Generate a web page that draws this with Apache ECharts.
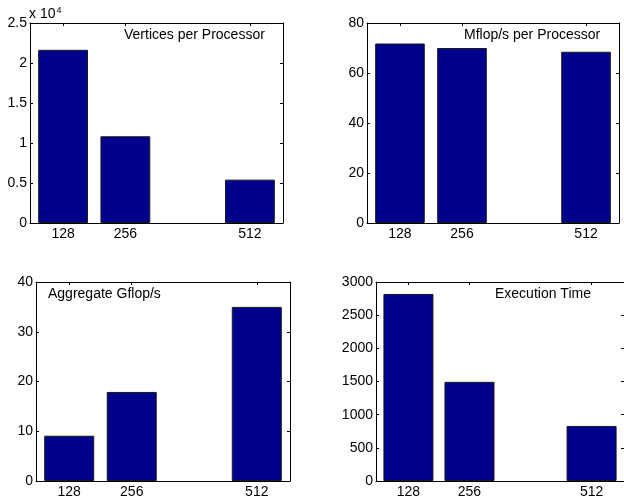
<!DOCTYPE html>
<html>
<head>
<meta charset="utf-8">
<script src="https://cdn.jsdelivr.net/npm/echarts@6/dist/echarts.min.js"></script>
<style>html,body{margin:0;padding:0;background:#fff}#c{width:624px;height:499px}</style>
</head>
<body>
<div id="c"></div>
<script>
// ---- data ----
const processors = [128, 256, 512];
const xTicks = [128, 256, 512];
const vertices = [21650, 10840, 5420];
const mflops = [71.8, 70.0, 68.5];
const gflops = [9.1, 17.9, 35.0];
const execTime = [2820, 1495, 830];
const titles = ['Vertices per Processor', 'Mflop/s per Processor', 'Aggregate Gflop/s', 'Execution Time'];
const yRanges = [[0, 25000, 5000], [0, 80, 20], [0, 40, 10], [0, 3000, 500]];

// ---- layout ----
const FONT = 'Liberation Sans, Arial, Helvetica, sans-serif';
const XMIN = 60, XMAX = 580;
const grids = [
  {left: 30, top: 23, width: 253, height: 200},
  {left: 367, top: 23, width: 252, height: 200},
  {left: 36, top: 282, width: 254, height: 200},
  {left: 376, top: 282, width: 254, height: 200}
];
const seriesData = [vertices, mflops, gflops, execTime];
const barColor = '#00008c';

const chart = echarts.init(document.getElementById('c'), null, {renderer: 'canvas'});

const xAxis = [], yAxis = [], series = [];
const tick = {show: true, inside: true, length: 3, lineStyle: {color: '#000', width: 1}};
const line = {show: true, onZero: false, lineStyle: {color: '#000', width: 1}};

grids.forEach((g, i) => {
  const [ymin, ymax, yint] = yRanges[i];
  xAxis.push({
    type: 'value', gridIndex: i, position: 'bottom', min: XMIN, max: XMAX,
    axisLine: line, splitLine: {show: false},
    axisTick: Object.assign({}, tick, {customValues: xTicks}),
    axisLabel: {customValues: xTicks, color: '#000', fontSize: 14, fontFamily: FONT, margin: 4}
  });
  xAxis.push({
    type: 'value', gridIndex: i, position: 'top', min: XMIN, max: XMAX,
    axisLine: line, splitLine: {show: false},
    axisTick: Object.assign({}, tick, {customValues: xTicks}),
    axisLabel: {show: false}
  });
  yAxis.push({
    type: 'value', gridIndex: i, position: 'left', min: ymin, max: ymax, interval: yint,
    axisLine: line, splitLine: {show: false}, axisTick: tick,
    axisLabel: {
      color: '#000', fontSize: 14, fontFamily: FONT, margin: 3,
      formatter: i === 0 ? (v => String(v / 10000)) : (v => String(v))
    }
  });
  yAxis.push({
    type: 'value', gridIndex: i, position: 'right', min: ymin, max: ymax, interval: yint,
    axisLine: line, splitLine: {show: false}, axisTick: tick, axisLabel: {show: false}
  });
  const pxPerUnit = g.width / (XMAX - XMIN);
  series.push({
    type: 'bar', xAxisIndex: 2 * i, yAxisIndex: 2 * i,
    data: processors.map((p, k) => [p, seriesData[i][k]]),
    barWidth: 102.4 * pxPerUnit,
    itemStyle: {color: barColor, borderColor: '#1a1a1a', borderWidth: 1},
    silent: true, animation: false
  });
});

const txt = (x, y, s) => ({type: 'text', left: x, top: y, silent: true,
  style: {text: s, fill: '#000', font: '14px ' + FONT}});

chart.setOption({
  animation: false,
  grid: grids.map(g => Object.assign({containLabel: false}, g)),
  xAxis, yAxis, series,
  graphic: [
    txt(124, 28, titles[0]),
    txt(464, 28, titles[1]),
    txt(48, 287, titles[2]),
    txt(495, 287, titles[3]),
    {type: 'text', left: 29, top: 6, silent: true,
      style: {text: 'x 10{s|4}', fill: '#000', font: '14px ' + FONT,
        rich: {s: {fontSize: 9, fontFamily: FONT, verticalAlign: 'top', padding: [0, 0, 7, 1]}}}}
  ]
});
</script>
</body>
</html>
